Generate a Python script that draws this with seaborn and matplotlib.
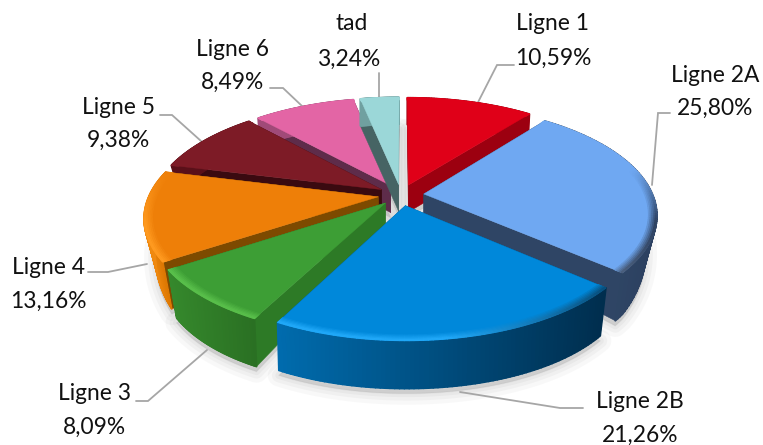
import numpy as np
import matplotlib
matplotlib.use("Agg")
import matplotlib.pyplot as plt
from matplotlib.collections import PolyCollection
from matplotlib.colors import to_rgb
from matplotlib.patches import Polygon
import seaborn as sns

# Data
categories = ["Ligne 1", "Ligne 2A", "Ligne 2B", "Ligne 3", "Ligne 4", "Ligne 5", "Ligne 6", "tad"]
shares = [10.59, 25.80, 21.26, 8.09, 13.16, 9.38, 8.49, 3.24]

# Colours, one per slice
top_colors = ["#E00018", "#6FA8F2", "#0088DA", "#3D9E35", "#EE7F08", "#7D1B26", "#E365A5", "#9BD7D8"]
cut_colors = ["#9C0010", "#2F4565", "#004F80", "#2D7A26", "#7D4A00", "#3A0A10", "#5E2C4A", "#466464"]
wall_left = ["#9C0010", "#34506F", "#006CAE", "#35882C", "#F08A10", "#5A1019", "#A04A78", "#70A0A0"]
wall_right = ["#9C0010", "#2C4060", "#002E4E", "#2A7023", "#D97400", "#5A1019", "#A04A78", "#70A0A0"]
rim_colors = ["#F03040", "#9FB4CC", "#20A8F8", "#58BE4A", "#FF9A20", "#7D1B26", "#E365A5", "#9BD7D8"]

# Label boxes (x, y of the name, then x, y of the percentage)
label_pos = [(553, 24, 553, 58), (715, 75, 715, 108), (640, 402, 640, 435), (95, 393, 94, 427),
             (48, 267, 48, 301), (119, 108, 118, 140), (233, 50, 232, 82), (352, 23, 350, 59)]
leaders = [[(514, 65), (497, 65), (470, 118)], [(670, 113), (658, 113), (652, 185)],
           [(583, 408), (560, 408), (460, 392)], [(136, 401), (148, 401), (207, 350)],
           [(88, 272), (108, 272), (147, 264)], [(160, 115), (172, 115), (201, 141)],
           [(270, 88), (283, 88), (302, 106)], [(379, 73), (379, 73), (379, 97)]]

# painter's order, back slices first
draw_order = [0, 6, 7, 5, 1, 4, 3, 2]

# Perspective of the pie
CX, CY = 401, 195
SX, SY = 229, 106.4
PERSP = 0.18
EXPLODE = 0.1


def project(u, v):
    d = 1 + PERSP * v
    return CX + SX * u / d, CY - SY * v / d


def drop(x, y, v):
    # the lower edge of the wall, deeper towards the viewer
    depth = np.minimum(27 + 35 * np.maximum(-v, 0), 48)
    dx = x - CX
    return x - np.sign(dx) * 8 * (np.abs(dx) / 230) ** 3, y + depth


def mix(a, b, f):
    a, b = np.array(to_rgb(a)), np.array(to_rgb(b))
    return tuple(a + (b - a) * f)


sns.set_theme(style="white")
plt.rcParams["font.family"] = ["Lato", "DejaVu Sans"]

fig, ax = plt.subplots(figsize=(7.63, 4.45), dpi=100)
fig.subplots_adjust(0, 0, 1, 1)
ax.set_xlim(0, 763)
ax.set_ylim(445, 0)
ax.axis("off")

edges = np.radians(np.concatenate([[0], np.cumsum(shares) / np.sum(shares) * 360]))
mids = (edges[:-1] + edges[1:]) / 2

# soft shadow on the floor
for i in range(len(shares)):
    ox, oy = EXPLODE * np.sin(mids[i]), EXPLODE * np.cos(mids[i])
    t = np.linspace(edges[i], edges[i + 1], 60)
    u = np.concatenate([[ox], ox + np.sin(t)])
    v = np.concatenate([[oy], oy + np.cos(t)])
    x, y = project(u, v)
    xb, yb = drop(x, y, v)
    for lw, alpha in [(16, 0.05), (10, 0.06), (5, 0.07), (1, 0.08)]:
        ax.add_patch(Polygon(np.c_[xb, yb + 5], closed=True, fc="#808080", ec="#808080",
                             lw=lw, alpha=alpha, joinstyle="round", zorder=1))

for z, i in enumerate(draw_order):
    base = 2 + z * 0.1
    ox, oy = EXPLODE * np.sin(mids[i]), EXPLODE * np.cos(mids[i])
    t = np.linspace(edges[i], edges[i + 1], 80)
    u, v = ox + np.sin(t), oy + np.cos(t)
    x, y = project(u, v)
    xb, yb = drop(x, y, v)
    ax0, ay0 = project(ox, oy)
    bx0, by0 = drop(ax0, ay0, oy)

    # the two cut faces
    for j in (0, -1):
        ax.add_patch(Polygon([(ax0, ay0), (x[j], y[j]), (xb[j], yb[j]), (bx0, by0)], closed=True,
                             fc=cut_colors[i], ec=cut_colors[i], lw=0.3, zorder=base))

    # outer wall, shaded from left to right
    wall = [[(x[k], y[k]), (x[k + 1], y[k + 1]), (xb[k + 1], yb[k + 1]), (xb[k], yb[k])]
            for k in range(len(t) - 1)]
    frac = (x[:-1] - x.min()) / max(x.max() - x.min(), 1)
    wall_cols = [mix(wall_left[i], wall_right[i], f) for f in frac]
    ax.add_collection(PolyCollection(wall, facecolors=wall_cols, edgecolors=wall_cols,
                                     linewidths=1.2, zorder=base + 0.01))

    # top face
    ax.add_patch(Polygon(np.c_[np.r_[ax0, x], np.r_[ay0, y]], closed=True,
                         fc=top_colors[i], ec=top_colors[i], lw=0.3, zorder=base + 0.02))

    # bevel along the front of the rim
    rings = np.linspace(0.965, 1.0, 6)
    bevel, bevel_cols = [], []
    for r in range(len(rings) - 1):
        x1, y1 = project(ox + rings[r] * np.sin(t), oy + rings[r] * np.cos(t))
        x2, y2 = project(ox + rings[r + 1] * np.sin(t), oy + rings[r + 1] * np.cos(t))
        for k in range(len(t) - 1):
            front = np.clip(0.5 - np.cos(t[k]) * 2, 0, 1)
            dark = np.clip((np.sin(t[k]) - 0.15) * 1.2, 0, 1)
            edge_col = mix(rim_colors[i], wall_right[i], dark)
            f = front * (r + 1) / (len(rings) - 1)
            bevel.append([(x1[k], y1[k]), (x1[k + 1], y1[k + 1]), (x2[k + 1], y2[k + 1]), (x2[k], y2[k])])
            bevel_cols.append(mix(top_colors[i], edge_col, f))
    ax.add_collection(PolyCollection(bevel, facecolors=bevel_cols, edgecolors=bevel_cols,
                                     linewidths=0.8, zorder=base + 0.03))

# leader lines
for pts in leaders:
    px, py = zip(*pts)
    ax.plot(px, py, color="#A6A6A6", lw=1.3, zorder=1.5, solid_joinstyle="miter")

# labels
for name, share, (nx, ny, px, py) in zip(categories, shares, label_pos):
    pct = f"{share:.2f}".replace(".", ",") + "%"
    ax.text(nx, ny, name, ha="center", va="center", fontsize=16.4, color="#111111", zorder=20)
    ax.text(px, py, pct, ha="center", va="center", fontsize=16.4, color="#111111", zorder=20)

fig.savefig("out.png", dpi=100)
